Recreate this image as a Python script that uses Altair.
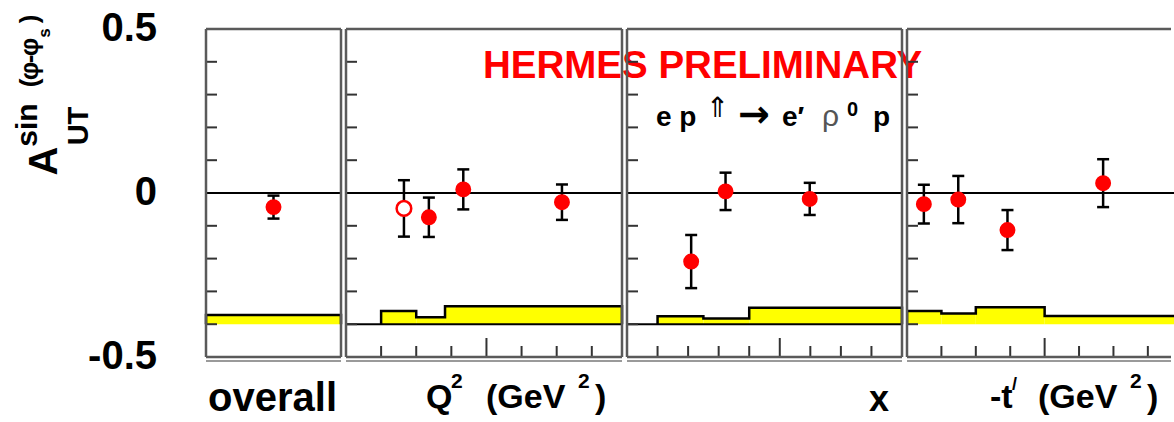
import altair as alt
import pandas as pd

# ---------------------------------------------------------------------------
# Measured asymmetry A_UT^{sin(phi-phi_s)} for exclusive rho0 production
# ---------------------------------------------------------------------------

# integrated result
OVR_X = [0.5]
OVR_VAL = [-0.043]
OVR_ERR = [0.035]
OVR_EDGES = [0.0, 1.0]
OVR_SYS = [0.028]

# Q^2 bins (GeV^2); the first point is drawn as an open marker
Q2_X = [1.65, 2.36, 3.34, 6.15]
Q2_VAL = [-0.047, -0.074, 0.011, -0.028]
Q2_ERR = [0.086, 0.060, 0.061, 0.054]
Q2_OPEN = [True, False, False, False]
Q2_EDGES = [1.0, 2.0, 2.82, 7.86]
Q2_SYS = [0.040, 0.021, 0.055]

# x_B bins
XB_X = [0.042, 0.0645, 0.1196]
XB_VAL = [-0.209, 0.005, -0.018]
XB_ERR = [0.081, 0.057, 0.049]
XB_EDGES = [0.02, 0.05, 0.08, 0.18]
XB_SYS = [0.024, 0.017, 0.050]

# -t' bins (GeV^2)
T_X = [0.049, 0.149, 0.292, 0.570]
T_VAL = [-0.034, -0.020, -0.113, 0.030]
T_ERR = [0.059, 0.072, 0.061, 0.073]
T_EDGES = [0.0, 0.1, 0.2, 0.4, 0.8]
T_SYS = [0.040, 0.033, 0.052, 0.025]

# axis decorations
Y_TICKS = [-0.4, -0.3, -0.2, -0.1, 0.1, 0.2, 0.3, 0.4]
Y_LABEL_VALUES = [0.5, 0.0, -0.5]
Y_LABEL_TEXT = ["0.5", "0", "-0.5"]
Q2_MINOR = [1, 2, 3, 5, 6, 7]
Q2_MAJOR = [4]
XB_MINOR = [0.02, 0.04, 0.06, 0.08, 0.12, 0.14, 0.16]
XB_MAJOR = [0.10]
T_MINOR = [0.1, 0.2, 0.3, 0.5, 0.6, 0.7]
T_MAJOR = [0.4]

SYST_BASE = -0.4

FONT = "Liberation Sans"
RED = "#ff0000"
YELLOW = "#ffff00"
FRAME = "#5a5a5a"
FRAME2 = "#9a9a9a"
H = 328

YS = alt.Scale(domain=[-0.5, 0.5], nice=False, zero=False)


def one():
    return pd.DataFrame({"k": [0]})


def yq(field):
    return alt.Y(field, type="quantitative", scale=YS, axis=None)


def xq(field, scale):
    return alt.X(field, type="quantitative", scale=scale, axis=None)


def text(t, x, y, size, weight="bold", color="black", align="left",
         baseline="alphabetic", angle=0, font=FONT):
    return alt.Chart(one()).mark_text(
        text=t, fontSize=size, fontWeight=weight, color=color, align=align,
        baseline=baseline, angle=angle, font=font,
    ).encode(x=alt.value(x), y=alt.value(y))


def frame(width, right=True, trim=0):
    w = width - trim
    layers = [
        alt.Chart(one()).mark_rule(color=FRAME, strokeWidth=2.5).encode(
            x=alt.value(0), x2=alt.value(w), y=alt.value(0)),
        alt.Chart(one()).mark_rule(color=FRAME, strokeWidth=2.5).encode(
            x=alt.value(0), x2=alt.value(w), y=alt.value(H)),
        alt.Chart(one()).mark_rule(color=FRAME2, strokeWidth=2).encode(
            x=alt.value(0), x2=alt.value(w), y=alt.value(H + 4)),
        alt.Chart(one()).mark_rule(color=FRAME, strokeWidth=2.5).encode(
            x=alt.value(0), y=alt.value(0), y2=alt.value(H)),
    ]
    if right:
        layers.append(
            alt.Chart(one()).mark_rule(color=FRAME, strokeWidth=2.5).encode(
                x=alt.value(width), y=alt.value(0), y2=alt.value(H)))
    return layers


def y_ticks():
    return alt.Chart(pd.DataFrame({"v": Y_TICKS})).mark_rule(
        color="#333333", strokeWidth=2).encode(
        y=yq("v"), x=alt.value(0), x2=alt.value(11))


def x_ticks(minor, major, scale):
    lo = alt.Chart(pd.DataFrame({"v": minor})).mark_rule(
        color="#333333", strokeWidth=2).encode(
        x=xq("v", scale), y=alt.value(H), y2=alt.value(H - 11))
    hi = alt.Chart(pd.DataFrame({"v": major})).mark_rule(
        color="#333333", strokeWidth=2).encode(
        x=xq("v", scale), y=alt.value(H), y2=alt.value(H - 19))
    return [lo, hi]


def zero_line(clip=False):
    return alt.Chart(pd.DataFrame({"v": [0.0]})).mark_rule(
        color="black", strokeWidth=2, clip=clip).encode(y=yq("v"))


def base_line():
    return alt.Chart(pd.DataFrame({"v": [SYST_BASE]})).mark_rule(
        color="black", strokeWidth=2).encode(y=yq("v"))


def syst_band(edges, syst, scale, clip=False):
    band = pd.DataFrame({
        "x0": edges[:-1],
        "x1": edges[1:],
        "base": [SYST_BASE] * len(syst),
        "top": [SYST_BASE + s for s in syst],
    })
    rect = alt.Chart(band).mark_rect(color=YELLOW, clip=clip).encode(
        x=xq("x0", scale), x2="x1:Q", y=yq("base"), y2="top:Q")
    # histogram outline: up at the first edge, along the steps, down at the last
    px, py = [edges[0]], [SYST_BASE]
    for i, s in enumerate(syst):
        px += [edges[i], edges[i + 1]]
        py += [SYST_BASE + s, SYST_BASE + s]
    px.append(edges[-1])
    py.append(SYST_BASE)
    outline = pd.DataFrame({"x": px, "y": py, "i": list(range(len(px)))})
    line = alt.Chart(outline).mark_line(
        color="black", strokeWidth=2.5, clip=clip).encode(
        x=xq("x", scale), y=yq("y"), order="i:Q")
    return [rect, line]


def data_points(xv, val, err, scale, hollow=None):
    if hollow is None:
        hollow = [False] * len(xv)
    df = pd.DataFrame({
        "x": xv,
        "v": val,
        "lo": [v - e for v, e in zip(val, err)],
        "hi": [v + e for v, e in zip(val, err)],
        "open": hollow,
    })
    base = alt.Chart(df)
    bars = base.mark_rule(color="black", strokeWidth=2.5).encode(
        x=xq("x", scale), y=yq("lo"), y2="hi:Q")
    cap_lo = base.mark_tick(orient="horizontal", color="black", size=12,
                            thickness=2.5, opacity=1).encode(
        x=xq("x", scale), y=yq("lo"))
    cap_hi = base.mark_tick(orient="horizontal", color="black", size=12,
                            thickness=2.5, opacity=1).encode(
        x=xq("x", scale), y=yq("hi"))
    full = base.transform_filter("!datum.open").mark_circle(
        color=RED, size=254, opacity=1).encode(x=xq("x", scale), y=yq("v"))
    empty = base.transform_filter("datum.open").mark_circle(
        fill="white", stroke=RED, strokeWidth=2.5, size=214, opacity=1).encode(
        x=xq("x", scale), y=yq("v"))
    return [bars, cap_lo, cap_hi, full, empty]


# ---------------------------------------------------------------------------
# panel 1: overall, carries the y labels and the y title
# ---------------------------------------------------------------------------
W1 = 135
S1 = alt.Scale(domain=[0, 1], nice=False, zero=False)
ylabels = alt.Chart(pd.DataFrame({"v": Y_LABEL_VALUES, "t": Y_LABEL_TEXT})).mark_text(
    font=FONT, fontSize=40, fontWeight="bold", align="right", baseline="middle",
    color="black").encode(y=yq("v"), x=alt.value(-49), text="t:N")

# A_UT^{sin(phi-phi_s)}, written bottom to top, one glyph group at a time
ytitle = [
    text("A", -149, 132, 40, align="center", angle=270),
    text("sin", -169, 96, 30, align="center", angle=270),
    text("UT", -118, 97, 29, align="center", angle=270),
    text("(", -168, 54, 26, align="center", angle=270),
    text("φ", -168, 42, 26, align="center", angle=270),
    text("-", -168, 30, 26, align="center", angle=270),
    text("φ", -168, 18, 26, align="center", angle=270),
    text("s", -156, 4, 17, align="center", angle=270),
    text(")", -168, -10, 26, align="center", angle=270),
]

p1 = alt.layer(
    *syst_band(OVR_EDGES, OVR_SYS, S1),
    zero_line(),
    y_ticks(),
    *data_points(OVR_X, OVR_VAL, OVR_ERR, S1),
    ylabels,
    *ytitle,
    text("overall", 131, 382, 40, align="right"),
    *frame(W1),
).properties(width=W1, height=H)

# ---------------------------------------------------------------------------
# panel 2: Q^2
# ---------------------------------------------------------------------------
W2 = 276
S2 = alt.Scale(domain=[0, 7.86], nice=False, zero=False)
p2 = alt.layer(
    *syst_band(Q2_EDGES, Q2_SYS, S2),
    base_line(),
    zero_line(),
    y_ticks(),
    *x_ticks(Q2_MINOR, Q2_MAJOR, S2),
    *data_points(Q2_X, Q2_VAL, Q2_ERR, S2, Q2_OPEN),
    text("HERMES PRELIMINARY", 137, 49, 38.5, color=RED),
    text("Q", 80, 379, 34),
    text("2", 105, 359, 21),
    text("(GeV", 140, 379, 34),
    text("2", 232, 359, 21),
    text(")", 249, 379, 34),
    *frame(W2),
).properties(width=W2, height=H)

# ---------------------------------------------------------------------------
# panel 3: x
# ---------------------------------------------------------------------------
W3 = 275
S3 = alt.Scale(domain=[0, 0.18], nice=False, zero=False)
p3 = alt.layer(
    *syst_band(XB_EDGES, XB_SYS, S3),
    base_line(),
    zero_line(),
    y_ticks(),
    *x_ticks(XB_MINOR, XB_MAJOR, S3),
    *data_points(XB_X, XB_VAL, XB_ERR, S3),
    text("e p", 29, 97, 28),
    text("⇑", 79, 88, 28, weight="normal", font="DejaVu Sans"),
    text("→", 127, 98, 38, align="center", font="DejaVu Sans"),
    text("e′", 155, 97, 28),
    text("ρ", 195, 97, 30, weight="normal", color="#555555"),
    text("0", 220, 87, 20),
    text("p", 246, 97, 28),
    text("x", 242, 382, 36),
    *frame(W3),
).properties(width=W3, height=H)

# ---------------------------------------------------------------------------
# panel 4: -t' (runs past the right edge of the canvas)
# ---------------------------------------------------------------------------
W4 = 267
S4 = alt.Scale(domain=[0, 0.776], nice=False, zero=False)
p4 = alt.layer(
    *syst_band(T_EDGES, T_SYS, S4, clip=True),
    zero_line(clip=True),
    y_ticks(),
    *x_ticks(T_MINOR, T_MAJOR, S4),
    *data_points(T_X, T_VAL, T_ERR, S4),
    text("-t", 83, 379, 34),
    text("/", 105, 361, 18),
    text("(GeV", 131, 379, 34),
    text("2", 223, 359, 21),
    text(")", 240, 379, 34),
    *frame(W4, right=False, trim=3),
).properties(width=W4, height=H)

chart = alt.hconcat(p1, p2, p3, p4, spacing=5, bounds="flush").properties(
    padding={"left": 13, "top": 9, "right": 0, "bottom": 0},
    background="white",
).configure_view(stroke=None)

chart.save("out.html", embed_options={"renderer": "svg", "actions": False})
